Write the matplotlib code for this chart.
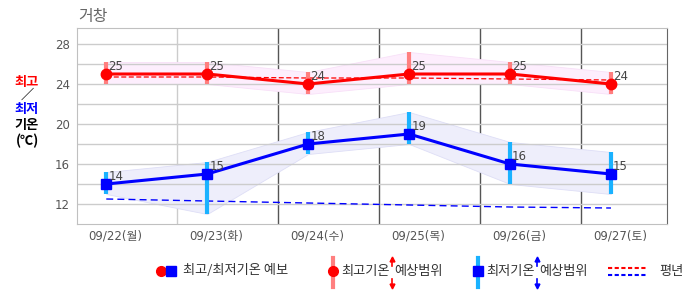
import matplotlib
matplotlib.use("Agg")
import matplotlib.pyplot as plt
from matplotlib.lines import Line2D
import numpy as np

plt.rcParams['font.family'] = ['DejaVu Sans', 'Noto Sans CJK KR']
KR = ['Noto Sans CJK KR', 'DejaVu Sans']

days = ["09/22(월)", "09/23(화)", "09/24(수)", "09/25(목)", "09/26(금)", "09/27(토)"]
tmax = [25, 25, 24, 25, 25, 24]
tmax_lo = [24.0, 24.0, 23.0, 24.0, 24.0, 23.0]
tmax_hi = [26.2, 26.2, 25.2, 27.2, 26.2, 25.2]
tmin = [14, 15, 18, 19, 16, 15]
tmin_lo = [13.0, 11.0, 17.0, 18.0, 14.0, 13.0]
tmin_hi = [15.2, 16.2, 19.2, 21.2, 18.2, 17.2]
norm_max = [24.7, 24.7, 24.6, 24.6, 24.5, 24.4]
norm_min = [12.5, 12.3, 12.1, 11.9, 11.7, 11.6]

W, H = 686, 295
fig = plt.figure(figsize=(W / 100, H / 100), dpi=100)
ax = fig.add_axes([77 / W, 1 - 224 / H, 590 / W, 196 / H])
x = np.arange(len(days))

# bands
ax.fill_between(x, tmax_lo, tmax_hi, facecolor='#fdeefd', edgecolor='#f8e0f8', lw=0.6, zorder=1)
ax.fill_between(x, tmin_lo, tmin_hi, facecolor='#eeeefb', edgecolor='#dedef6', lw=0.6, zorder=1)

# normals
ax.plot(x, norm_max, color='red', lw=0.9, ls=(0, (4, 2)), zorder=2)
ax.plot(x, norm_min, color='blue', lw=1.0, ls=(0, (5, 3)), zorder=2)

# range bars
ax.vlines(x, tmax_lo, tmax_hi, color='#ff7f7f', lw=3, zorder=3)
ax.vlines(x, tmin_lo, tmin_hi, color='#1ab2ff', lw=3, zorder=3)

# main lines
ax.plot(x, tmax, color='red', lw=2.2, marker='o', ms=7.5, zorder=4)
ax.plot(x, tmin, color='blue', lw=2.2, marker='s', ms=7, zorder=4)

for xi, v in zip(x, tmax):
    ax.annotate(str(v), (xi, v), xytext=(1.5, 0.5), textcoords='offset points',
                ha='left', va='bottom', fontsize=8.5, color='#444444', zorder=5)
for xi, v in zip(x, tmin):
    ax.annotate(str(v), (xi, v), xytext=(1.5, 0.5), textcoords='offset points',
                ha='left', va='bottom', fontsize=8.5, color='#444444', zorder=5)

ax.set_xlim(-0.29, 5.555)
ax.set_ylim(10, 29.6)
ax.set_yticks([12, 16, 20, 24, 28])
ax.set_yticks(np.arange(12, 29, 2), minor=True)
ax.grid(axis='y', which='both', color='#cccccc', lw=1, zorder=0)
ax.set_xticks(x + 0.09)
ax.set_xticklabels(days)
ax.tick_params(axis='both', which='both', length=0, labelsize=8.5, labelcolor='#555555')
ax.tick_params(axis='x', pad=4)
ax.tick_params(axis='y', pad=5)

for i, xv in enumerate(x[:-1] + 0.7):
    ax.axvline(xv, color='#cccccc' if i == 0 else '#555555', lw=1, zorder=0.5)

for s in ['left', 'top', 'bottom']:
    ax.spines[s].set_color('#c0c0c0')
ax.spines['right'].set_color('#666666')

# title and y label
fig.text(78 / W, 1 - 16 / H, "거창", fontsize=11.5, color='#666666', va='center', ha='left', family=KR)
ylab = [("최고", 'red', 82), ("／", 'black', 95), ("최저", 'blue', 109), ("기온", 'black', 125), ("(℃)", 'black', 141)]
for t, c, yy in ylab:
    fig.text(27 / W, 1 - yy / H, t, fontsize=9.5, color=c, weight='bold', ha='center', va='center', family=KR)

# legend
ly = 1 - 271 / H
def fx(px):
    return px / W
def fy(py):
    return 1 - py / H

lk = dict(fontsize=9.5, color='#333333', va='center', family=KR)
fig.add_artist(Line2D([fx(161)], [ly], marker='o', color='red', ms=7, ls=''))
fig.add_artist(Line2D([fx(171)], [ly], marker='s', color='blue', ms=6.5, ls=''))
fig.text(fx(183), ly, "최고/최저기온 예보", **lk)

fig.add_artist(Line2D([fx(333), fx(333)], [fy(258), fy(287)], color='#ff7f7f', lw=3))
fig.add_artist(Line2D([fx(333)], [ly], marker='o', color='red', ms=7, ls=''))
fig.text(fx(341), ly, "최고기온", **lk)
fig.text(fx(394), ly, "예상범위", **lk)

fig.add_artist(Line2D([fx(478), fx(478)], [fy(258), fy(287)], color='#1ab2ff', lw=3))
fig.add_artist(Line2D([fx(478)], [ly], marker='s', color='blue', ms=6.5, ls=''))
fig.text(fx(486), ly, "최저기온", **lk)
fig.text(fx(539), ly, "예상범위", **lk)

for ax_px, col in [(392, 'red'), (537, 'blue')]:
    fig.add_artist(plt.Line2D([fx(ax_px), fx(ax_px)], [fy(259), fy(266)], color=col, lw=1.2))
    fig.add_artist(plt.Line2D([fx(ax_px), fx(ax_px)], [fy(279), fy(286)], color=col, lw=1.2))
    fig.add_artist(Line2D([fx(ax_px)], [fy(259)], marker='^', color=col, ms=3.5, ls=''))
    fig.add_artist(Line2D([fx(ax_px)], [fy(286)], marker='v', color=col, ms=3.5, ls=''))

fig.add_artist(Line2D([fx(608), fx(647)], [fy(268), fy(268)], color='red', lw=1.5, ls=(0, (2, 1.2))))
fig.add_artist(Line2D([fx(608), fx(647)], [fy(275), fy(275)], color='blue', lw=1.5, ls=(0, (2, 1.2))))
fig.text(fx(659), ly, "평년", **lk)

fig.savefig("out.png", dpi=100)
